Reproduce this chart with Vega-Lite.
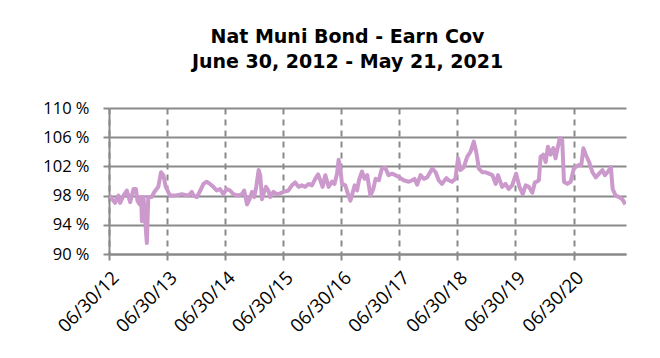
{
  "$schema": "https://vega.github.io/schema/vega-lite/v6.json",
  "width": 517,
  "height": 146,
  "autosize": {"type": "none"},
  "padding": {"left": 109, "top": 108, "right": 34, "bottom": 104},
  "background": "white",
  "title": {
    "text": ["Nat Muni Bond - Earn Cov", "June 30, 2012 - May 21, 2021"],
    "font": "DejaVu Sans",
    "fontWeight": "bold",
    "fontSize": 19,
    "lineHeight": 25,
    "color": "#000000",
    "anchor": "middle",
    "dx": -20,
    "offset": 28
  },
  "data": {
    "values": [
      {"date": "2012-07-06", "v": 98.0},
      {"date": "2012-08-07", "v": 97.0},
      {"date": "2012-08-28", "v": 98.0},
      {"date": "2012-09-08", "v": 97.0},
      {"date": "2012-09-29", "v": 98.0},
      {"date": "2012-10-20", "v": 98.7},
      {"date": "2012-11-10", "v": 97.1},
      {"date": "2012-12-01", "v": 98.9},
      {"date": "2012-12-16", "v": 98.9},
      {"date": "2012-12-26", "v": 97.3},
      {"date": "2013-01-08", "v": 96.8},
      {"date": "2013-01-18", "v": 97.8},
      {"date": "2013-01-23", "v": 94.5},
      {"date": "2013-02-02", "v": 97.8},
      {"date": "2013-02-23", "v": 91.5},
      {"date": "2013-03-04", "v": 97.8},
      {"date": "2013-03-25", "v": 97.8},
      {"date": "2013-04-11", "v": 98.5},
      {"date": "2013-05-06", "v": 99.2},
      {"date": "2013-05-23", "v": 101.2},
      {"date": "2013-06-07", "v": 100.8},
      {"date": "2013-06-22", "v": 99.2},
      {"date": "2013-07-19", "v": 98.0},
      {"date": "2013-08-20", "v": 98.0},
      {"date": "2013-10-01", "v": 98.2},
      {"date": "2013-11-12", "v": 98.0},
      {"date": "2013-12-03", "v": 98.5},
      {"date": "2013-12-13", "v": 98.0},
      {"date": "2014-01-04", "v": 97.8},
      {"date": "2014-01-25", "v": 98.7},
      {"date": "2014-02-14", "v": 99.6},
      {"date": "2014-03-06", "v": 99.9},
      {"date": "2014-03-27", "v": 99.6},
      {"date": "2014-04-17", "v": 99.2},
      {"date": "2014-05-08", "v": 98.7},
      {"date": "2014-05-29", "v": 98.9},
      {"date": "2014-06-19", "v": 98.2},
      {"date": "2014-07-10", "v": 98.9},
      {"date": "2014-07-31", "v": 98.7},
      {"date": "2014-08-21", "v": 98.2},
      {"date": "2014-09-22", "v": 98.0},
      {"date": "2014-10-14", "v": 98.2},
      {"date": "2014-10-28", "v": 98.7},
      {"date": "2014-11-15", "v": 96.8},
      {"date": "2014-12-01", "v": 97.5},
      {"date": "2014-12-16", "v": 98.5},
      {"date": "2014-12-30", "v": 97.8},
      {"date": "2015-01-12", "v": 99.2},
      {"date": "2015-01-27", "v": 101.5},
      {"date": "2015-02-06", "v": 100.8},
      {"date": "2015-02-17", "v": 97.5},
      {"date": "2015-03-02", "v": 98.5},
      {"date": "2015-03-14", "v": 99.2},
      {"date": "2015-03-29", "v": 98.7},
      {"date": "2015-04-09", "v": 97.8},
      {"date": "2015-04-30", "v": 98.5},
      {"date": "2015-05-21", "v": 98.2},
      {"date": "2015-06-11", "v": 98.3},
      {"date": "2015-07-02", "v": 98.5},
      {"date": "2015-08-02", "v": 98.7},
      {"date": "2015-08-24", "v": 99.4},
      {"date": "2015-09-14", "v": 99.8},
      {"date": "2015-10-05", "v": 99.2},
      {"date": "2015-10-26", "v": 99.4},
      {"date": "2015-11-16", "v": 99.2},
      {"date": "2015-12-07", "v": 99.6},
      {"date": "2015-12-28", "v": 99.4},
      {"date": "2016-01-18", "v": 100.3},
      {"date": "2016-02-05", "v": 100.9},
      {"date": "2016-02-19", "v": 100.1},
      {"date": "2016-03-04", "v": 99.2},
      {"date": "2016-03-21", "v": 100.8},
      {"date": "2016-04-11", "v": 99.2},
      {"date": "2016-05-02", "v": 99.9},
      {"date": "2016-05-18", "v": 99.6},
      {"date": "2016-06-03", "v": 101.0},
      {"date": "2016-06-13", "v": 102.9},
      {"date": "2016-06-24", "v": 101.7},
      {"date": "2016-07-04", "v": 99.6},
      {"date": "2016-07-25", "v": 99.4},
      {"date": "2016-08-11", "v": 98.2},
      {"date": "2016-08-26", "v": 97.3},
      {"date": "2016-09-10", "v": 98.5},
      {"date": "2016-09-22", "v": 99.4},
      {"date": "2016-10-07", "v": 98.7},
      {"date": "2016-10-19", "v": 100.1},
      {"date": "2016-11-07", "v": 101.3},
      {"date": "2016-11-23", "v": 100.3},
      {"date": "2016-12-10", "v": 100.8},
      {"date": "2016-12-30", "v": 98.0},
      {"date": "2017-01-17", "v": 98.9},
      {"date": "2017-01-31", "v": 100.3},
      {"date": "2017-02-21", "v": 100.1},
      {"date": "2017-03-12", "v": 101.7},
      {"date": "2017-04-02", "v": 101.8},
      {"date": "2017-04-23", "v": 100.8},
      {"date": "2017-05-15", "v": 101.0},
      {"date": "2017-06-05", "v": 100.8},
      {"date": "2017-06-30", "v": 100.5},
      {"date": "2017-07-27", "v": 100.1},
      {"date": "2017-08-28", "v": 99.9},
      {"date": "2017-09-19", "v": 100.1},
      {"date": "2017-10-03", "v": 100.3},
      {"date": "2017-10-20", "v": 99.5},
      {"date": "2017-11-10", "v": 100.8},
      {"date": "2017-12-01", "v": 100.3},
      {"date": "2017-12-22", "v": 100.5},
      {"date": "2018-01-23", "v": 101.7},
      {"date": "2018-02-13", "v": 101.2},
      {"date": "2018-03-04", "v": 100.1},
      {"date": "2018-03-25", "v": 99.6},
      {"date": "2018-04-21", "v": 100.4},
      {"date": "2018-05-06", "v": 100.1},
      {"date": "2018-05-27", "v": 99.9},
      {"date": "2018-06-17", "v": 100.3},
      {"date": "2018-07-04", "v": 103.1},
      {"date": "2018-07-19", "v": 101.5},
      {"date": "2018-08-09", "v": 101.9},
      {"date": "2018-08-30", "v": 103.3},
      {"date": "2018-09-20", "v": 104.0},
      {"date": "2018-10-11", "v": 105.4},
      {"date": "2018-10-26", "v": 104.0},
      {"date": "2018-11-12", "v": 101.7},
      {"date": "2018-12-03", "v": 101.2},
      {"date": "2018-12-24", "v": 101.2},
      {"date": "2019-01-14", "v": 101.0},
      {"date": "2019-02-05", "v": 100.8},
      {"date": "2019-02-26", "v": 99.6},
      {"date": "2019-03-12", "v": 100.8},
      {"date": "2019-04-07", "v": 99.2},
      {"date": "2019-04-28", "v": 99.6},
      {"date": "2019-05-18", "v": 98.9},
      {"date": "2019-06-09", "v": 99.4},
      {"date": "2019-07-04", "v": 101.0},
      {"date": "2019-07-25", "v": 99.2},
      {"date": "2019-08-15", "v": 98.2},
      {"date": "2019-09-02", "v": 99.4},
      {"date": "2019-09-22", "v": 99.2},
      {"date": "2019-10-14", "v": 98.4},
      {"date": "2019-10-30", "v": 99.8},
      {"date": "2019-11-10", "v": 99.9},
      {"date": "2019-11-24", "v": 100.1},
      {"date": "2019-12-05", "v": 103.3},
      {"date": "2019-12-22", "v": 103.6},
      {"date": "2020-01-06", "v": 102.6},
      {"date": "2020-01-20", "v": 104.7},
      {"date": "2020-02-06", "v": 103.6},
      {"date": "2020-02-23", "v": 104.5},
      {"date": "2020-03-08", "v": 103.1},
      {"date": "2020-03-19", "v": 104.3},
      {"date": "2020-04-04", "v": 105.9},
      {"date": "2020-04-19", "v": 105.6},
      {"date": "2020-04-30", "v": 99.9},
      {"date": "2020-05-21", "v": 99.6},
      {"date": "2020-06-11", "v": 99.9},
      {"date": "2020-07-01", "v": 101.7},
      {"date": "2020-07-12", "v": 101.9},
      {"date": "2020-08-02", "v": 102.2},
      {"date": "2020-08-17", "v": 102.2},
      {"date": "2020-08-30", "v": 104.5},
      {"date": "2020-09-14", "v": 103.6},
      {"date": "2020-10-05", "v": 102.6},
      {"date": "2020-10-26", "v": 101.2},
      {"date": "2020-11-16", "v": 100.5},
      {"date": "2020-12-07", "v": 101.0},
      {"date": "2020-12-28", "v": 101.5},
      {"date": "2021-01-12", "v": 100.8},
      {"date": "2021-01-29", "v": 101.2},
      {"date": "2021-02-19", "v": 101.9},
      {"date": "2021-03-02", "v": 98.9},
      {"date": "2021-03-21", "v": 98.0},
      {"date": "2021-04-11", "v": 97.8},
      {"date": "2021-05-02", "v": 97.5},
      {"date": "2021-05-21", "v": 96.8}
    ]
  },
  "mark": {"type": "line", "color": "#CC99CC", "strokeWidth": 4, "strokeJoin": "round", "clip": true},
  "encoding": {
    "x": {
      "field": "date",
      "type": "temporal",
      "scale": {"type": "utc", "domain": [{"year": 2012, "month": 6, "date": 30, "utc": true}, {"year": 2021, "month": 5, "date": 25, "utc": true}]},
      "axis": {
        "title": null,
        "values": [
          {"year": 2012, "month": 6, "date": 30, "utc": true},
          {"year": 2013, "month": 6, "date": 30, "utc": true},
          {"year": 2014, "month": 6, "date": 30, "utc": true},
          {"year": 2015, "month": 6, "date": 30, "utc": true},
          {"year": 2016, "month": 6, "date": 30, "utc": true},
          {"year": 2017, "month": 6, "date": 30, "utc": true},
          {"year": 2018, "month": 6, "date": 30, "utc": true},
          {"year": 2019, "month": 6, "date": 30, "utc": true},
          {"year": 2020, "month": 6, "date": 30, "utc": true}
        ],
        "format": "%m/%d/%y",
        "labelAngle": -45,
        "labelAlign": "right",
        "labelBaseline": "top",
        "labelFont": "Open Sans",
        "labelFontSize": 18.5,
        "labelColor": "#000000",
        "labelPadding": 8,
        "labelFlush": false,
        "labelOverlap": false,
        "tickSize": 6,
        "tickColor": "#8a8a8a",
        "tickWidth": 2,
        "domainColor": "#8a8a8a",
        "domainWidth": 2,
        "grid": true,
        "gridColor": "#8a8a8a",
        "gridWidth": 2,
        "gridDash": [6, 5]
      }
    },
    "y": {
      "field": "v",
      "type": "quantitative",
      "scale": {"domain": [90, 110], "zero": false, "nice": false},
      "axis": {
        "title": null,
        "values": [90, 94, 98, 102, 106, 110],
        "labelExpr": "datum.value + ' %'",
        "labelFont": "Open Sans",
        "labelFontSize": 16.5,
        "labelColor": "#000000",
        "labelPadding": 14,
        "tickSize": 6,
        "tickColor": "#8a8a8a",
        "tickWidth": 2,
        "domainColor": "#8a8a8a",
        "domainWidth": 2,
        "grid": true,
        "gridColor": "#8a8a8a",
        "gridWidth": 2
      }
    }
  },
  "config": {"view": {"stroke": null}}
}
